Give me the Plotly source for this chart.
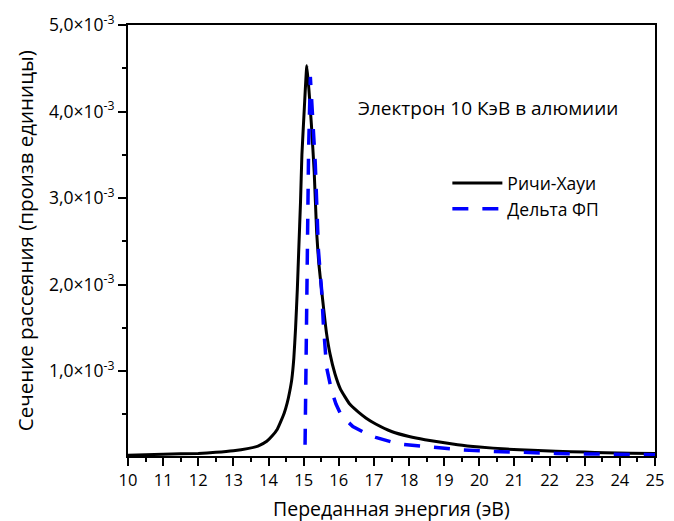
import plotly.graph_objects as go

# Ritchie-Howie (black solid)
rh_E = [10.0, 11.0, 12.0, 12.5, 13.0, 13.4, 13.7, 13.95, 14.1, 14.25, 14.35, 14.45, 14.53, 14.6, 14.66,
        14.72, 14.77, 14.82, 14.86, 14.91, 14.95, 15.02, 15.09, 15.15, 15.22, 15.3, 15.37, 15.43,
        15.51, 15.58, 15.65, 15.75, 15.89, 16.05, 16.31, 16.55, 16.77, 17.05, 17.52, 18.0, 18.45,
        19.38, 20.0, 20.78, 21.5, 22.18, 23.0, 23.58, 24.3, 25.0]
rh_v = [3.0e-5, 4.0e-5, 5.0e-5, 6.2e-5, 8.0e-5, 1.05e-4, 1.35e-4, 1.9e-4, 2.5e-4, 3.3e-4, 4.2e-4, 5.2e-4,
        6.3e-4, 7.6e-4, 9.0e-4, 1.15e-3, 1.5e-3, 1.95e-3, 2.4e-3, 2.95e-3, 3.5e-3, 4.05e-3, 4.53e-3,
        4.25e-3, 3.85e-3, 3.3e-3, 2.6e-3, 2.25e-3, 1.94e-3, 1.68e-3, 1.44e-3, 1.2e-3, 9.7e-4, 7.9e-4,
        6.2e-4, 5.3e-4, 4.6e-4, 3.9e-4, 3.0e-4, 2.45e-4, 2.08e-4, 1.5e-4, 1.23e-4, 1.0e-4, 8.6e-5,
        7.4e-5, 6.5e-5, 5.8e-5, 5.3e-5, 5.0e-5]

# Delta FP (blue dashed)
fp_E = [15.04, 15.06, 15.08, 15.1, 15.14, 15.19, 15.23, 15.33, 15.42, 15.51, 15.56, 15.65, 15.79,
        15.92, 16.07, 16.4, 16.87, 17.05, 17.7, 18.64, 19.48, 20.41, 21.25, 22.18, 23.12, 24.0, 25.0]
fp_v = [1.5e-4, 1.0e-3, 2.0e-3, 2.8e-3, 3.55e-3, 4.4e-3, 4.07e-3, 3.4e-3, 2.4e-3, 1.94e-3, 1.55e-3,
        1.05e-3, 7.8e-4, 6.2e-4, 4.9e-4, 3.6e-4, 2.6e-4, 2.35e-4, 1.6e-4, 1.2e-4, 9.0e-5, 7.3e-5,
        5.8e-5, 5.0e-5, 4.3e-5, 3.9e-5, 3.5e-5]

y_tickvals = [0.001, 0.002, 0.003, 0.004, 0.005]
y_ticktext = ["1,0×10<sup>-3</sup>", "2,0×10<sup>-3</sup>", "3,0×10<sup>-3</sup>",
              "4,0×10<sup>-3</sup>", "5,0×10<sup>-3</sup>"]
y_minor = [0.0005, 0.0015, 0.0025, 0.0035, 0.0045]

FONT = "Open Sans"

fig = go.Figure()
fig.add_trace(go.Scatter(x=rh_E, y=rh_v, mode="lines", name="Ричи-Хауи",
                         line=dict(color="black", width=3, shape="spline", smoothing=0.4)))
fig.add_trace(go.Scatter(x=fp_E, y=fp_v, mode="lines", name="Дельта ФП",
                         line=dict(color="#0000ff", width=3.5, dash="16px,14px")))

fig.update_layout(
    width=674, height=521,
    margin=dict(l=128, r=10, t=25, b=65),
    paper_bgcolor="white", plot_bgcolor="white",
    font=dict(family=FONT, color="black", size=16),
    showlegend=True,
    legend=dict(x=0.606, y=0.675, xanchor="left", yanchor="top",
                bgcolor="rgba(0,0,0,0)", font=dict(size=17.5, family=FONT),
                itemwidth=50, tracegroupgap=0),
    xaxis=dict(range=[10, 25], tickmode="linear", tick0=10, dtick=1,
               ticks="outside", ticklen=8, tickwidth=2, tickcolor="black",
               showline=True, linewidth=2, linecolor="black", mirror=True,
               showgrid=False, zeroline=False,
               tickfont=dict(size=16.5, family=FONT),
               minor=dict(dtick=0.5, tick0=10, ticks="outside", ticklen=4, tickwidth=2, tickcolor="black")),
    yaxis=dict(range=[0.00002, 0.005], tickmode="array", tickvals=y_tickvals, ticktext=y_ticktext,
               ticks="outside", ticklen=8, tickwidth=2, tickcolor="black",
               showline=True, linewidth=2, linecolor="black", mirror=True,
               showgrid=False, zeroline=False,
               tickfont=dict(size=17.5, family=FONT),
               minor=dict(tickmode="array", tickvals=y_minor, ticks="outside", ticklen=4,
                          tickwidth=2, tickcolor="black")),
    annotations=[
        dict(text="Электрон 10 КэВ в алюмиии", xref="paper", yref="paper", x=0.433, y=0.807,
             xanchor="left", yanchor="middle", showarrow=False, font=dict(size=19, family=FONT)),
        dict(text="Сечение рассеяния (произв единицы)", xref="paper", yref="paper",
             x=-0.196, y=0.5, xanchor="center", yanchor="middle", textangle=-90,
             showarrow=False, font=dict(size=20.5, family=FONT)),
        dict(text="Переданная энергия (эВ)", xref="paper", yref="paper",
             x=0.5, y=-0.121, xanchor="center", yanchor="middle",
             showarrow=False, font=dict(size=19.5, family=FONT)),
    ],
)

fig.write_html("out.html")
